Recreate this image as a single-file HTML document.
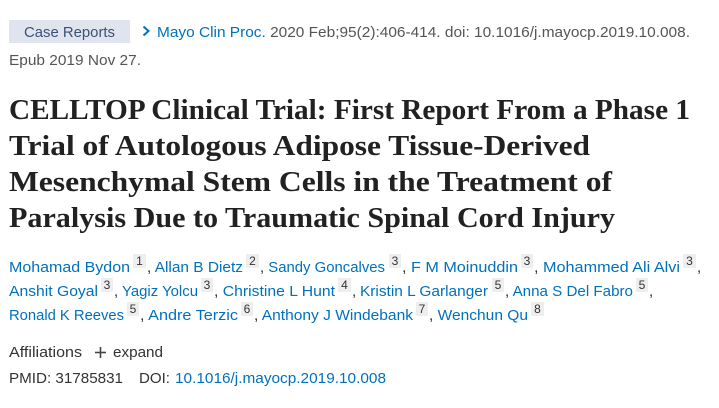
<!DOCTYPE html>
<html>
<head>
<meta charset="utf-8">
<style>
  html, body { margin:0; padding:0; background:#fff; }
  body { width:719px; height:408px; overflow:hidden; }
  svg { display:block; }
  .s { font-family:"Liberation Sans", "DejaVu Sans", sans-serif; font-size:15px; }
  .t { font-family:"Liberation Serif", "DejaVu Serif", serif; font-size:29px; font-weight:bold; fill:#212121; }
  .g { fill:#333; }
  .b { fill:#0071bc; }
  .sup { font-family:"Liberation Sans", "DejaVu Sans", sans-serif; font-size:12px; fill:#333; }
  .box { fill:#eeeeee; }
</style>
</head>
<body>
<svg width="719" height="408" viewBox="0 0 719 408" xmlns="http://www.w3.org/2000/svg">
  <!-- breadcrumb -->
  <rect x="9" y="20" width="121" height="23" fill="#dfe4ee"/>
  <text class="s" x="24" y="37" fill="#3b5275" textLength="91" lengthAdjust="spacingAndGlyphs">Case Reports</text>
  <polyline points="143.5,26.5 148.5,31 143.5,35.5" fill="none" stroke="#0071bc" stroke-width="2"/>
  <text class="s" x="157" y="37" textLength="533" lengthAdjust="spacingAndGlyphs"><tspan class="b">Mayo Clin Proc.</tspan><tspan fill="#555"> 2020 Feb;95(2):406-414. doi: 10.1016/j.mayocp.2019.10.008.</tspan></text>
  <text class="s" x="9" y="65" fill="#555" textLength="132" lengthAdjust="spacingAndGlyphs">Epub 2019 Nov 27.</text>

  <!-- title -->
  <text class="t" x="9" y="119" textLength="681" lengthAdjust="spacingAndGlyphs">CELLTOP Clinical Trial: First Report From a Phase 1</text>
  <text class="t" x="9" y="155" textLength="581" lengthAdjust="spacingAndGlyphs">Trial of Autologous Adipose Tissue-Derived</text>
  <text class="t" x="9" y="191" textLength="603" lengthAdjust="spacingAndGlyphs">Mesenchymal Stem Cells in the Treatment of</text>
  <text class="t" x="9" y="227" textLength="606" lengthAdjust="spacingAndGlyphs">Paralysis Due to Traumatic Spinal Cord Injury</text>

  <!-- authors line 1 -->
  <text class="s b" x="9" y="272" textLength="121" lengthAdjust="spacingAndGlyphs">Mohamad Bydon</text>
  <rect class="box" x="133" y="254" width="13" height="14"/><text class="sup" x="139.5" y="265" text-anchor="middle">1</text>
  <text class="s" x="147" y="272" textLength="96" lengthAdjust="spacingAndGlyphs"><tspan class="g">, </tspan><tspan class="b">Allan B Dietz</tspan></text>
  <rect class="box" x="246" y="254" width="13" height="14"/><text class="sup" x="252.5" y="265" text-anchor="middle">2</text>
  <text class="s" x="260" y="272" textLength="125" lengthAdjust="spacingAndGlyphs"><tspan class="g">, </tspan><tspan class="b">Sandy Goncalves</tspan></text>
  <rect class="box" x="389" y="254" width="12" height="14"/><text class="sup" x="395" y="265" text-anchor="middle">3</text>
  <text class="s" x="402" y="272" textLength="116" lengthAdjust="spacingAndGlyphs"><tspan class="g">, </tspan><tspan class="b">F M Moinuddin</tspan></text>
  <rect class="box" x="521" y="254" width="12" height="14"/><text class="sup" x="527" y="265" text-anchor="middle">3</text>
  <text class="s" x="534" y="272" textLength="146" lengthAdjust="spacingAndGlyphs"><tspan class="g">, </tspan><tspan class="b">Mohammed Ali Alvi</tspan></text>
  <rect class="box" x="683" y="254" width="13" height="14"/><text class="sup" x="689.5" y="265" text-anchor="middle">3</text>
  <text class="s g" x="697" y="272">,</text>

  <!-- authors line 2 -->
  <text class="s b" x="9" y="296" textLength="89" lengthAdjust="spacingAndGlyphs">Anshit Goyal</text>
  <rect class="box" x="101" y="278" width="12" height="14"/><text class="sup" x="107" y="289" text-anchor="middle">3</text>
  <text class="s" x="114" y="296" textLength="84" lengthAdjust="spacingAndGlyphs"><tspan class="g">, </tspan><tspan class="b">Yagiz Yolcu</tspan></text>
  <rect class="box" x="201" y="278" width="12" height="14"/><text class="sup" x="207" y="289" text-anchor="middle">3</text>
  <text class="s" x="214" y="296" textLength="121" lengthAdjust="spacingAndGlyphs"><tspan class="g">, </tspan><tspan class="b">Christine L Hunt</tspan></text>
  <rect class="box" x="338" y="278" width="13" height="14"/><text class="sup" x="344.5" y="289" text-anchor="middle">4</text>
  <text class="s g" x="352" y="296">,</text>
  <text class="s b" x="360" y="296" textLength="128" lengthAdjust="spacingAndGlyphs">Kristin L Garlanger</text>
  <rect class="box" x="492" y="278" width="12" height="14"/><text class="sup" x="498" y="289" text-anchor="middle">5</text>
  <text class="s" x="505" y="296" textLength="128" lengthAdjust="spacingAndGlyphs"><tspan class="g">, </tspan><tspan class="b">Anna S Del Fabro</tspan></text>
  <rect class="box" x="636" y="278" width="12" height="14"/><text class="sup" x="642" y="289" text-anchor="middle">5</text>
  <text class="s g" x="649" y="296">,</text>

  <!-- authors line 3 -->
  <text class="s b" x="9" y="320" textLength="115" lengthAdjust="spacingAndGlyphs">Ronald K Reeves</text>
  <rect class="box" x="127" y="302" width="12" height="14"/><text class="sup" x="133" y="313" text-anchor="middle">5</text>
  <text class="s" x="140" y="320" textLength="98" lengthAdjust="spacingAndGlyphs"><tspan class="g">, </tspan><tspan class="b">Andre Terzic</tspan></text>
  <rect class="box" x="241" y="302" width="12" height="14"/><text class="sup" x="247" y="313" text-anchor="middle">6</text>
  <text class="s" x="254" y="320" textLength="159" lengthAdjust="spacingAndGlyphs"><tspan class="g">, </tspan><tspan class="b">Anthony J Windebank</tspan></text>
  <rect class="box" x="416" y="302" width="12" height="14"/><text class="sup" x="422" y="313" text-anchor="middle">7</text>
  <text class="s" x="429" y="320" textLength="99" lengthAdjust="spacingAndGlyphs"><tspan class="g">, </tspan><tspan class="b">Wenchun Qu</tspan></text>
  <rect class="box" x="531" y="302" width="13" height="14"/><text class="sup" x="537.5" y="313" text-anchor="middle">8</text>

  <!-- affiliations -->
  <text class="s g" x="9" y="357" textLength="73" lengthAdjust="spacingAndGlyphs">Affiliations</text>
  <line x1="95" y1="352.5" x2="106" y2="352.5" stroke="#444" stroke-width="1.6"/>
  <line x1="100.5" y1="347" x2="100.5" y2="358" stroke="#444" stroke-width="1.6"/>
  <text class="s g" x="113" y="357" textLength="50" lengthAdjust="spacingAndGlyphs">expand</text>

  <!-- PMID / DOI -->
  <text class="s g" x="9" y="383" textLength="114" lengthAdjust="spacingAndGlyphs">PMID: 31785831</text>
  <text class="s g" x="139" y="383" textLength="31" lengthAdjust="spacingAndGlyphs">DOI:</text>
  <text class="s b" x="175" y="383" textLength="211" lengthAdjust="spacingAndGlyphs">10.1016/j.mayocp.2019.10.008</text>
</svg>
</body>
</html>
